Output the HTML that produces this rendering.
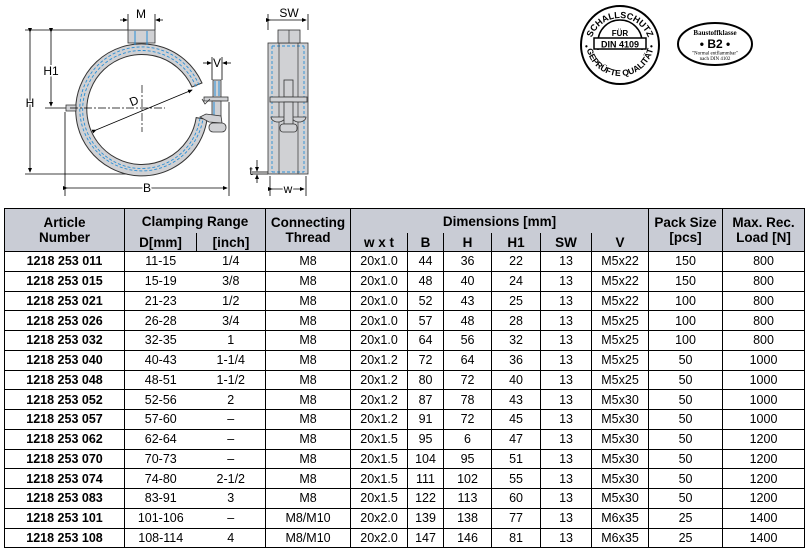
<!DOCTYPE html>
<html><head><meta charset="utf-8"><style>
html,body{margin:0;padding:0;background:#fff;width:811px;height:551px;overflow:hidden;font-family:"Liberation Sans",sans-serif}
svg{position:absolute;left:0;top:0}
table{position:absolute;left:4px;top:208px;border-collapse:collapse;table-layout:fixed;width:801px}
td,th{border:1px solid #000;padding:0;text-align:center;font-size:12.5px;color:#000;overflow:hidden;white-space:nowrap}
th{background:#c9ccd5;font-weight:bold;font-size:13.5px;line-height:15px}
tr.h1 th{height:24px}
tr.h2 th{height:18px}
th.nb{border-bottom:none}
th.sub{border-top:none}
td{height:18.75px;line-height:18px}
td.a{font-weight:bold;font-size:12.5px}
td.d{border-right:none}
td.i{border-left:none}
</style></head><body>
<svg width="811" height="205" viewBox="0 0 811 205">
<defs><marker id="ar" markerWidth="6" markerHeight="6" refX="5" refY="3" orient="auto"><path d="M0,0.5 L6,3 L0,5.5z" fill="#000"/></marker></defs>
<g stroke="#000" stroke-width="0.8" fill="none">
<line x1="25" y1="30" x2="128" y2="30"/>
<line x1="25" y1="174" x2="140" y2="174"/>
<line x1="45" y1="108" x2="70" y2="108"/>
<line x1="65" y1="112" x2="65" y2="196"/>
<line x1="229" y1="102" x2="229" y2="196"/>
<line x1="128" y1="14" x2="128" y2="30"/><line x1="155" y1="14" x2="155" y2="30"/>
<line x1="212" y1="57" x2="212" y2="80"/><line x1="222" y1="57" x2="222" y2="80"/>
<line x1="30" y1="32" x2="30" y2="172" marker-start="url(#ar)" marker-end="url(#ar)"/>
<line x1="51" y1="32" x2="51" y2="106" marker-start="url(#ar)" marker-end="url(#ar)"/>
<line x1="67" y1="188" x2="227" y2="188" marker-start="url(#ar)" marker-end="url(#ar)"/>
<line x1="120" y1="20" x2="127" y2="20" marker-end="url(#ar)"/><line x1="163" y1="20" x2="156" y2="20" marker-end="url(#ar)"/>
<line x1="203" y1="63" x2="211" y2="63" marker-end="url(#ar)"/><line x1="231" y1="63" x2="223" y2="63" marker-end="url(#ar)"/>
</g>
<path d="M202,83 A66,66 0 1 0 207,119.5 L196.2,117.6 A55,55 0 1 1 192,87 Z" fill="#d0d1d4" stroke="#333" stroke-width="1"/>
<path d="M199,85 A62,62 0 1 0 203,118.8" fill="none" stroke="#2a8fd6" stroke-width="0.9" stroke-dasharray="3,2"/>
<path d="M196,86.5 A59,59 0 1 0 200,118.3" fill="none" stroke="#2a8fd6" stroke-width="0.9" stroke-dasharray="3,2"/>
<rect x="128" y="30" width="27" height="13" fill="#d0d1d4" stroke="#333" stroke-width="0.8"/>
<line x1="135" y1="31" x2="135" y2="45" stroke="#2a8fd6"/><line x1="147" y1="31" x2="147" y2="45" stroke="#2a8fd6"/>
<path d="M66,105 L76,105 L76,111 L66,111 Z" fill="#d0d1d4" stroke="#333" stroke-width="0.8"/>
<rect x="213" y="80" width="8" height="18" fill="#d0d1d4" stroke="#333" stroke-width="0.8"/>
<line x1="215" y1="81" x2="215" y2="96" stroke="#2a8fd6"/><line x1="219" y1="81" x2="219" y2="96" stroke="#2a8fd6"/>
<rect x="204" y="97" width="24" height="4" fill="#d0d1d4" stroke="#333" stroke-width="0.8"/>
<path d="M202,99 L205,104 L210,99" fill="none" stroke="#333" stroke-width="0.8"/>
<rect x="212" y="101" width="9" height="22" fill="#d0d1d4" stroke="#333" stroke-width="0.8"/>
<line x1="214" y1="102" x2="214" y2="122" stroke="#2a8fd6"/>
<path d="M200,117 L206,114 L221,116 L222,123 L209,122 Z" fill="#d0d1d4" stroke="#333" stroke-width="0.8"/>
<rect x="209" y="123" width="17" height="9" rx="4" fill="#d0d1d4" stroke="#333" stroke-width="0.8"/>
<g stroke="#000" stroke-width="0.7" stroke-dasharray="8,2,2,2">
<line x1="70" y1="108" x2="165" y2="108"/><line x1="142" y1="85" x2="142" y2="132"/>
</g>
<line x1="96" y1="130" x2="192" y2="90" stroke="#000" stroke-width="0.8" marker-start="url(#ar)" marker-end="url(#ar)"/>
<rect x="268" y="43" width="40" height="131" fill="#d0d1d4" stroke="#333" stroke-width="0.8"/>
<rect x="278" y="30" width="22" height="13" fill="#d0d1d4" stroke="#333" stroke-width="0.8"/>
<g stroke="#2a8fd6" stroke-width="0.9" stroke-dasharray="3,2" fill="none">
<line x1="272" y1="46" x2="272" y2="172"/><line x1="304" y1="46" x2="304" y2="172"/>
<line x1="272" y1="172" x2="304" y2="172"/><line x1="272" y1="46" x2="304" y2="46"/>
</g>
<g stroke="#333" stroke-width="0.7" fill="none">
<line x1="279" y1="43" x2="279" y2="174"/><line x1="298" y1="43" x2="298" y2="174"/>
<line x1="289" y1="30" x2="289" y2="43"/>
</g>
<rect x="284" y="80" width="9" height="17" fill="#d0d1d4" stroke="#333" stroke-width="0.8"/>
<rect x="270" y="97" width="37" height="5" fill="#d0d1d4" stroke="#333" stroke-width="0.8"/>
<path d="M271,117 A7,5 0 0 0 285,117 Z M292,117 A7,5 0 0 0 306,117 Z" fill="#d0d1d4" stroke="#333" stroke-width="0.8"/>
<rect x="284" y="102" width="9" height="22" fill="#d0d1d4" stroke="#333" stroke-width="0.8"/>
<rect x="280" y="124" width="17" height="8" rx="3" fill="#d0d1d4" stroke="#333" stroke-width="0.8"/>
<g stroke="#000" stroke-width="0.8" fill="none">
<line x1="268" y1="14" x2="268" y2="30"/><line x1="308" y1="14" x2="308" y2="30"/>
<line x1="270" y1="20" x2="306" y2="20" marker-start="url(#ar)" marker-end="url(#ar)"/>
<line x1="270" y1="176" x2="270" y2="196"/><line x1="306" y1="176" x2="306" y2="196"/>
<line x1="272" y1="189" x2="304" y2="189" marker-start="url(#ar)" marker-end="url(#ar)"/>
<line x1="252" y1="172" x2="268" y2="172"/><line x1="252" y1="174" x2="268" y2="174"/>
<line x1="257" y1="160" x2="257" y2="171" marker-end="url(#ar)"/><line x1="257" y1="183" x2="257" y2="175" marker-end="url(#ar)"/>
</g>
<g font-family="Liberation Sans,sans-serif" font-size="12" fill="#000" text-anchor="middle">
<text x="141" y="18">M</text><text x="30" y="107" stroke="#fff" stroke-width="3" paint-order="stroke">H</text>
<text x="51" y="75" stroke="#fff" stroke-width="3" paint-order="stroke">H1</text>
<text x="147" y="192" stroke="#fff" stroke-width="3" paint-order="stroke">B</text>
<text x="217" y="67">V</text><text x="289" y="17">SW</text>
<text x="288" y="193" stroke="#fff" stroke-width="3" paint-order="stroke">w</text>
<text x="251" y="175">t</text>
<text x="134" y="105" transform="rotate(-22 134 101)">D</text>
</g>
<circle cx="620" cy="45" r="39" fill="none" stroke="#000" stroke-width="2"/>
<path d="M598,50 L598,42 A22,22 0 0 1 642,42 L642,50" fill="none" stroke="#000" stroke-width="1.5"/>
<path id="tp" d="M590,48 A30,30 0 0 1 650,48" fill="none"/>
<path id="bp" d="M586,42 A34,34 0 0 0 654,42" fill="none"/>
<text font-family="Liberation Sans,sans-serif" font-size="9" font-weight="bold" text-anchor="middle"><textPath href="#tp" startOffset="50%">SCHALLSCHUTZ</textPath></text>
<text font-family="Liberation Sans,sans-serif" font-size="8.5" font-weight="bold" text-anchor="middle"><textPath href="#bp" startOffset="50%">GEPRÜFTE QUALITÄT</textPath></text>
<text x="585" y="49" font-size="8" font-weight="bold">•</text><text x="650" y="49" font-size="8" font-weight="bold">•</text>
<rect x="594" y="38" width="52" height="11" fill="#fff" stroke="#000" stroke-width="1.5"/>
<text x="620" y="36" font-family="Liberation Sans,sans-serif" font-size="8" font-weight="bold" text-anchor="middle">FÜR</text>
<text x="620" y="47.5" font-family="Liberation Sans,sans-serif" font-size="9" font-weight="bold" text-anchor="middle">DIN 4109</text>
<ellipse cx="715" cy="44" rx="37" ry="21" fill="none" stroke="#000" stroke-width="2"/>
<g font-family="Liberation Serif,serif" text-anchor="middle" font-weight="bold">
<text x="715" y="35" font-size="7">Baustoffklasse</text>
<text x="715" y="48" font-size="12" font-family="Liberation Sans,sans-serif">• B2 •</text>
<text x="715" y="54.5" font-size="5" font-weight="normal">"Normal entflammbar"</text>
<text x="715" y="60" font-size="5" font-weight="normal">nach DIN 4102</text>
</g>
</svg>
<table>
<colgroup><col style="width:120px"><col style="width:72px"><col style="width:69px"><col style="width:85px"><col style="width:57px"><col style="width:36px"><col style="width:48px"><col style="width:49px"><col style="width:51px"><col style="width:57px"><col style="width:74px"><col style="width:82px"></colgroup>
<tr class="h1"><th rowspan="2">Article<br>Number</th><th colspan="2" class="nb">Clamping Range</th><th rowspan="2">Connecting<br>Thread</th><th colspan="6" class="nb">Dimensions [mm]</th><th rowspan="2">Pack Size<br>[pcs]</th><th rowspan="2">Max. Rec.<br>Load [N]</th></tr>
<tr class="h2"><th class="sub">D[mm]</th><th class="sub">[inch]</th><th class="sub">w x t</th><th class="sub">B</th><th class="sub">H</th><th class="sub">H1</th><th class="sub">SW</th><th class="sub">V</th></tr>
<tr><td class="a">1218 253 011</td><td class="d">11-15</td><td class="i">1/4</td><td>M8</td><td>20x1.0</td><td>44</td><td>36</td><td>22</td><td>13</td><td>M5x22</td><td>150</td><td>800</td></tr>
<tr><td class="a">1218 253 015</td><td class="d">15-19</td><td class="i">3/8</td><td>M8</td><td>20x1.0</td><td>48</td><td>40</td><td>24</td><td>13</td><td>M5x22</td><td>150</td><td>800</td></tr>
<tr><td class="a">1218 253 021</td><td class="d">21-23</td><td class="i">1/2</td><td>M8</td><td>20x1.0</td><td>52</td><td>43</td><td>25</td><td>13</td><td>M5x22</td><td>100</td><td>800</td></tr>
<tr><td class="a">1218 253 026</td><td class="d">26-28</td><td class="i">3/4</td><td>M8</td><td>20x1.0</td><td>57</td><td>48</td><td>28</td><td>13</td><td>M5x25</td><td>100</td><td>800</td></tr>
<tr><td class="a">1218 253 032</td><td class="d">32-35</td><td class="i">1</td><td>M8</td><td>20x1.0</td><td>64</td><td>56</td><td>32</td><td>13</td><td>M5x25</td><td>100</td><td>800</td></tr>
<tr><td class="a">1218 253 040</td><td class="d">40-43</td><td class="i">1-1/4</td><td>M8</td><td>20x1.2</td><td>72</td><td>64</td><td>36</td><td>13</td><td>M5x25</td><td>50</td><td>1000</td></tr>
<tr><td class="a">1218 253 048</td><td class="d">48-51</td><td class="i">1-1/2</td><td>M8</td><td>20x1.2</td><td>80</td><td>72</td><td>40</td><td>13</td><td>M5x25</td><td>50</td><td>1000</td></tr>
<tr><td class="a">1218 253 052</td><td class="d">52-56</td><td class="i">2</td><td>M8</td><td>20x1.2</td><td>87</td><td>78</td><td>43</td><td>13</td><td>M5x30</td><td>50</td><td>1000</td></tr>
<tr><td class="a">1218 253 057</td><td class="d">57-60</td><td class="i">–</td><td>M8</td><td>20x1.2</td><td>91</td><td>72</td><td>45</td><td>13</td><td>M5x30</td><td>50</td><td>1000</td></tr>
<tr><td class="a">1218 253 062</td><td class="d">62-64</td><td class="i">–</td><td>M8</td><td>20x1.5</td><td>95</td><td>6</td><td>47</td><td>13</td><td>M5x30</td><td>50</td><td>1200</td></tr>
<tr><td class="a">1218 253 070</td><td class="d">70-73</td><td class="i">–</td><td>M8</td><td>20x1.5</td><td>104</td><td>95</td><td>51</td><td>13</td><td>M5x30</td><td>50</td><td>1200</td></tr>
<tr><td class="a">1218 253 074</td><td class="d">74-80</td><td class="i">2-1/2</td><td>M8</td><td>20x1.5</td><td>111</td><td>102</td><td>55</td><td>13</td><td>M5x30</td><td>50</td><td>1200</td></tr>
<tr><td class="a">1218 253 083</td><td class="d">83-91</td><td class="i">3</td><td>M8</td><td>20x1.5</td><td>122</td><td>113</td><td>60</td><td>13</td><td>M5x30</td><td>50</td><td>1200</td></tr>
<tr><td class="a">1218 253 101</td><td class="d">101-106</td><td class="i">–</td><td>M8/M10</td><td>20x2.0</td><td>139</td><td>138</td><td>77</td><td>13</td><td>M6x35</td><td>25</td><td>1400</td></tr>
<tr><td class="a">1218 253 108</td><td class="d">108-114</td><td class="i">4</td><td>M8/M10</td><td>20x2.0</td><td>147</td><td>146</td><td>81</td><td>13</td><td>M6x35</td><td>25</td><td>1400</td></tr>
</table>
</body></html>
